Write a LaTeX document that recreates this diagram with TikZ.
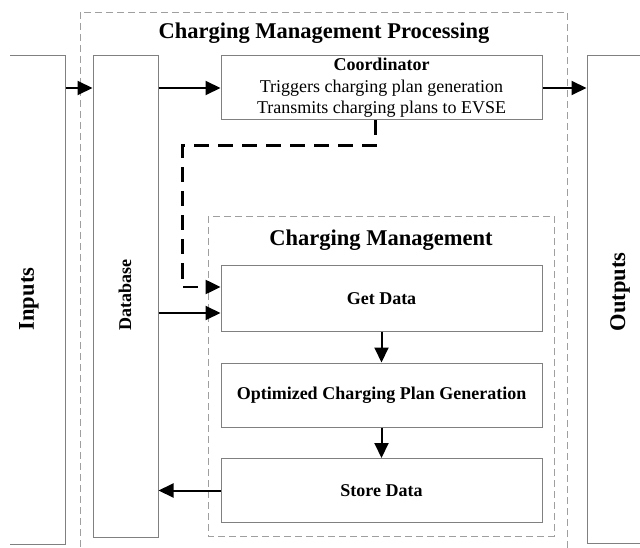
\documentclass[tikz,border=0pt]{standalone}
\usepackage{fontspec}
\setmainfont{Liberation Serif}
\usetikzlibrary{arrows.meta}

\begin{document}
\begin{tikzpicture}[x=1pt, y=-1pt,
    box/.style={draw=gray, line width=1pt, inner sep=0pt},
    group/.style={draw=gray!75, line width=0.9pt, dash pattern=on 7pt off 4pt},
    flow/.style={-{Triangle[length=15pt,width=14pt]}, line width=2pt},
    planflow/.style={flow, line width=2.5pt, dash pattern=on 15pt off 9pt},
    big/.style={font=\fontsize{22.5}{26}\selectfont\bfseries},
    mid/.style={font=\fontsize{18}{21.5}\selectfont\bfseries},
    small/.style={font=\fontsize{18}{21.5}\selectfont, align=center}]
  \useasboundingbox (0,0) rectangle (640,548);
  \clip (10,0) rectangle (640,548);
  % dashed frames
  \draw[group] (80,12) rectangle (567,570);
  \draw[group] (208,216) rectangle (554,536);
  \node[big] (title) at (324,33) {Charging Management Processing};
  \node[big] (cmtitle) at (381,240) {Charging Management};
  % side columns
  \node[box, minimum width=71, minimum height=488] (inputs) at (29.5,300) {};
  \node[big, rotate=90] (inputslabel) at (29,299) {Inputs};
  \node[box, minimum width=65, minimum height=481] (database) at (125.5,296.5) {};
  \node[mid, rotate=90] (databaselabel) at (125,295) {Database};
  \node[box, minimum width=66, minimum height=487] (outputs) at (620,299.5) {};
  \node[big, rotate=90] (outputslabel) at (620,292) {Outputs};
  % process boxes
  \node[box, small, minimum width=321, minimum height=64] (coord) at (381.5,88)
    {\textbf{Coordinator}\\Triggers charging plan generation\\Transmits charging plans to EVSE};
  \node[box, mid, minimum width=321, minimum height=65] (getdata) at (381.5,298.5) {Get Data};
  \node[box, mid, minimum width=321, minimum height=64] (opt) at (381.5,395) {Optimized Charging Plan Generation};
  \node[box, mid, minimum width=321, minimum height=64] (store) at (381.5,490.5) {Store Data};
  \coordinate (getin) at ([yshift=-14.5pt]getdata.west);
  \coordinate (planin) at ([yshift=11.5pt]getdata.west);
  % arrows
  \draw[flow] (inputs.east |- coord.west) -- (database.west |- coord.west);
  \draw[flow] (database.east |- coord.west) -- (coord.west);
  \draw[flow] (coord.east) -- (outputs.west |- coord.east);
  \draw[planflow] ([xshift=-6pt]coord.south) -- ++(0,25) -| ([xshift=-38pt]planin) -- (planin);
  \draw[flow] (database.east |- getin) -- (getin);
  \draw[flow] (getdata) -- (opt);
  \draw[flow] (opt) -- (store);
  \draw[flow] (store.west) -- (database.east |- store.west);
\end{tikzpicture}
\end{document}
